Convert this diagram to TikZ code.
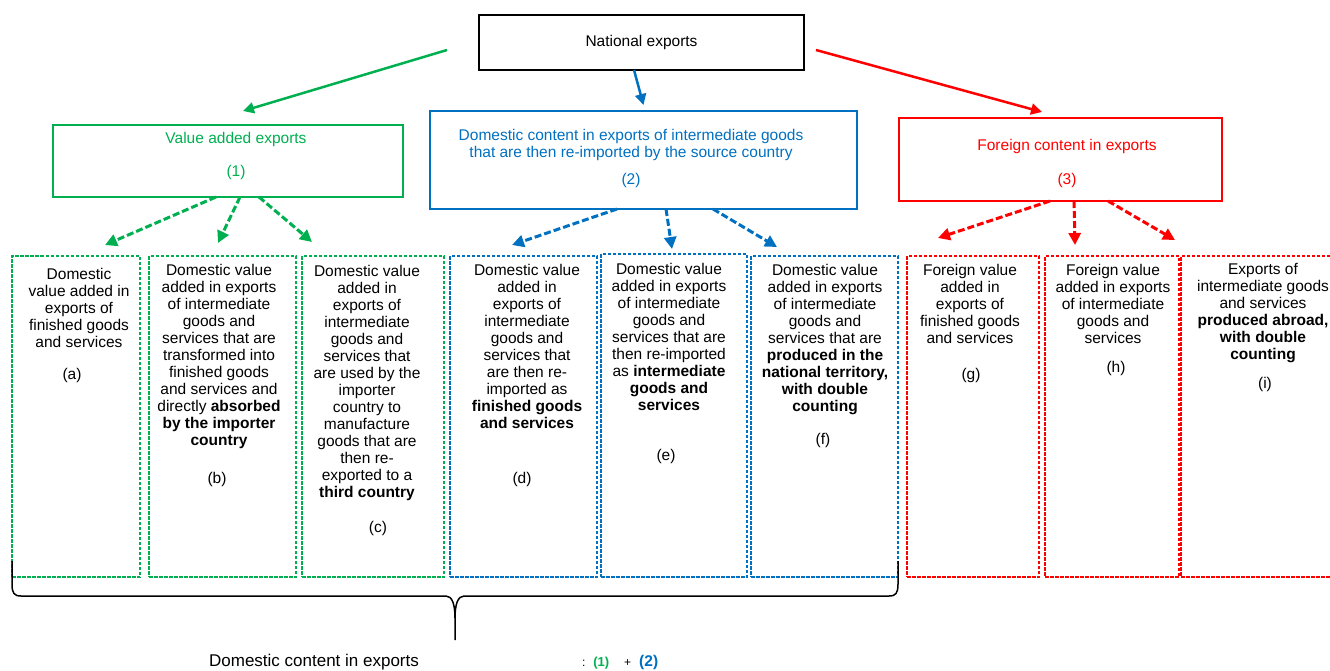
\documentclass[tikz,border=0pt]{standalone}
\usepackage{fontspec}
\setmainfont{Liberation Sans}
\usetikzlibrary{arrows.meta}
\definecolor{vagreen}{HTML}{00B050}
\definecolor{dcblue}{HTML}{0070C0}
\definecolor{fcred}{HTML}{FF0000}

\begin{document}
\begin{tikzpicture}[x=1pt,y=-1pt,
    every node/.style={font=\fontsize{15.5}{17}\selectfont, inner sep=0pt, outer sep=0pt},
    topbox/.style={draw=#1, line width=1.8pt},
    partbox/.style={draw=#1, line width=2pt, dash pattern=on 3.5pt off 1.5pt, minimum height=321pt},
    txt/.style={align=center, anchor=north},
    solidarr/.style={draw=#1, line width=2.5pt, -{Triangle[length=11pt,width=11pt]}},
    dasharr/.style={draw=#1, line width=3pt, dash pattern=on 7pt off 3pt, -{Triangle[length=12pt,width=12pt]}}]
    \useasboundingbox (0,0) rectangle (1330,670);

    \node[topbox=black, minimum width=325pt, minimum height=55pt] (nat) at (641.5,42.5) {National exports};
    \node[topbox=vagreen, minimum width=350pt, minimum height=72pt] (vadd) at (228,161) {};
    \node[topbox=dcblue, minimum width=427pt, minimum height=98pt] (dom) at (643.5,160) {};
    \node[topbox=fcred, minimum width=323pt, minimum height=83pt] (forn) at (1060.5,159.5) {};
    \node[align=center, text=vagreen] (vaddtxt) at (236,155.5) {Value added exports\\[16pt](1)};
    \node[align=center, text=dcblue] (domtxt) at (631,158) {Domestic content in exports of intermediate goods\\that are then re-imported by the source country\\[10pt](2)};
    \node[align=center, text=fcred] (forntxt) at (1067,163) {Foreign content in exports\\[17pt](3)};

    \node[partbox=vagreen, minimum width=128pt] (a) at (76,416.5) {};
    \node[partbox=vagreen, minimum width=147pt] (b) at (222.5,416.5) {};
    \node[partbox=vagreen, minimum width=142pt] (c) at (373,416.5) {};
    \node[partbox=dcblue, minimum width=147pt] (d) at (523.5,416.5) {};
    \node[partbox=dcblue, minimum width=146pt, minimum height=323pt] (e) at (674,415.5) {};
    \node[partbox=dcblue, minimum width=147pt] (f) at (824.5,416.5) {};
    \node[partbox=fcred, minimum width=132pt] (g) at (973,416.5) {};
    \node[partbox=fcred, minimum width=134pt] (h) at (1112,416.5) {};
    \node[partbox=fcred, minimum width=169pt] (i) at (1265.5,416.5) {};

    \node[txt] (atxt) at (79,268) {Domestic\\value added in\\exports of\\finished goods\\and services};
    \node[txt] (btxt) at (219,264) {Domestic value\\added in exports\\of intermediate\\goods and\\services that are\\transformed into\\finished goods\\and services and\\directly \textbf{absorbed}\\\textbf{by the importer}\\\textbf{country}};
    \node[txt] (ctxt) at (367,265) {Domestic value\\added in\\exports of\\intermediate\\goods and\\services that\\are used by the\\importer\\country to\\manufacture\\goods that are\\then re-\\exported to a\\\textbf{third country}};
    \node[txt] (dtxt) at (527,264) {Domestic value\\added in\\exports of\\intermediate\\goods and\\services that\\are then re-\\imported as\\\textbf{finished goods}\\\textbf{and services}};
    \node[txt] (etxt) at (669,263) {Domestic value\\added in exports\\of intermediate\\goods and\\services that are\\then re-imported\\as \textbf{intermediate}\\\textbf{goods and}\\\textbf{services}};
    \node[txt] (ftxt) at (825,264) {Domestic value\\added in exports\\of intermediate\\goods and\\services that are\\\textbf{produced in the}\\\textbf{national territory,}\\\textbf{with double}\\\textbf{counting}};
    \node[txt] (gtxt) at (970,264) {Foreign value\\added in\\exports of\\finished goods\\and services};
    \node[txt] (htxt) at (1113,264) {Foreign value\\added in exports\\of intermediate\\goods and\\services};
    \node[txt] (itxt) at (1263,263) {Exports of\\intermediate goods\\and services\\\textbf{produced abroad,}\\\textbf{with double}\\\textbf{counting}};

    \node (alab) at (72,375) {(a)};
    \node (blab) at (217,479) {(b)};
    \node (clab) at (378,528) {(c)};
    \node (dlab) at (522,479) {(d)};
    \node (elab) at (666,456) {(e)};
    \node (flab) at (823,440) {(f)};
    \node (glab) at (971,375) {(g)};
    \node (hlab) at (1116,368) {(h)};
    \node (ilab) at (1265,384) {(i)};

    \draw[solidarr=vagreen] ([xshift=-32pt,yshift=-7.5pt]nat.west) -- ([xshift=15pt,yshift=14pt]vadd.north);
    \draw[solidarr=dcblue] ([xshift=-7.5pt]nat.south) -- ([yshift=6pt]dom.north);
    \draw[solidarr=fcred] ([xshift=12pt,yshift=-7.5pt]nat.east) -- ([xshift=-18.5pt,yshift=6pt]forn.north);

    \draw[dasharr=vagreen] ([xshift=-12pt]vadd.south) -- ([xshift=29pt,yshift=11pt]a.north);
    \draw[dasharr=vagreen] ([xshift=12pt]vadd.south) -- ([xshift=-4.5pt,yshift=13pt]b.north);
    \draw[dasharr=vagreen] ([xshift=31pt]vadd.south) -- ([xshift=-61pt,yshift=14pt]c.north);
    \draw[dasharr=dcblue] ([xshift=-26.5pt]dom.south) -- ([xshift=-11.5pt,yshift=11pt]d.north);
    \draw[dasharr=dcblue] ([xshift=22.5pt]dom.south) -- ([xshift=-2pt,yshift=5pt]e.north);
    \draw[dasharr=dcblue] ([xshift=69.5pt]dom.south) -- ([xshift=-47.5pt,yshift=9pt]f.north);
    \draw[dasharr=fcred] ([xshift=-10.5pt]forn.south) -- ([xshift=-35pt,yshift=18pt]g.north);
    \draw[dasharr=fcred] ([xshift=13.5pt]forn.south) -- ([xshift=-37pt,yshift=11pt]h.north);
    \draw[dasharr=fcred] ([xshift=47.5pt]forn.south) -- ([xshift=-6pt,yshift=16pt]i.north west);

    \draw[line width=1.5pt] (12,561) -- (12,584) .. controls (12,593) and (14,596) .. (21,596) -- (446,596)
        .. controls (452,596) and (455,604) .. (455,618) -- (455,640);
    \draw[line width=1.5pt] (898,561) -- (898,584) .. controls (898,593) and (896,596) .. (889,596) -- (464,596)
        .. controls (458,596) and (455,604) .. (455,618);

    \node[font=\fontsize{17}{19}\selectfont] (dce) at (314,662) {Domestic content in exports};
    \node[anchor=west] (sum) at (582,662) {{\fontsize{12}{14}\selectfont:}\hspace{8pt}\textcolor{vagreen}{\bfseries\fontsize{13}{15}\selectfont(1)}\hspace{15pt}{\fontsize{12}{14}\selectfont+}\hspace{8pt}\textcolor{dcblue}{\bfseries(2)}};
\end{tikzpicture}
\end{document}
